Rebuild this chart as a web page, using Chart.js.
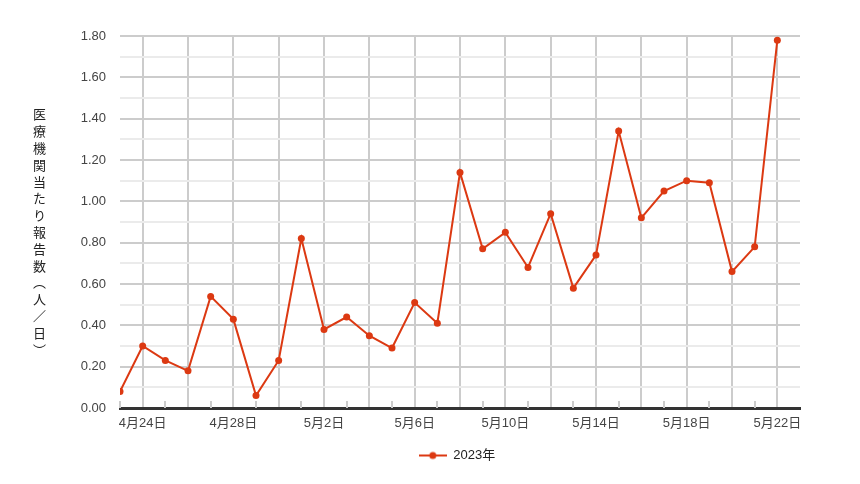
<!DOCTYPE html>
<html>
<head>
<meta charset="utf-8">
<script src="https://cdn.jsdelivr.net/npm/chart.js@4/dist/chart.umd.min.js"></script>
<style>
  html, body { margin: 0; padding: 0; background: #fff; }
  #wrap { position: relative; width: 860px; height: 484px; }
  #ytitle {
    position: absolute; left: 33px; top: 108px;
    writing-mode: vertical-rl; text-orientation: upright;
    font-family: "Noto Sans CJK JP", sans-serif; font-size: 13px; line-height: 13px;
    letter-spacing: 3.8px; color: #222; white-space: nowrap;
  }
</style>
</head>
<body>
<div id="wrap">
  <canvas id="c" width="860" height="484"></canvas>
  <div id="ytitle">医療機関当たり報告数（人／日）</div>
</div>
<script>
const categories = ['4月23日','4月24日','4月25日','4月26日','4月27日','4月28日','4月29日','4月30日',
  '5月1日','5月2日','5月3日','5月4日','5月5日','5月6日','5月7日','5月8日','5月9日','5月10日',
  '5月11日','5月12日','5月13日','5月14日','5月15日','5月16日','5月17日','5月18日','5月19日',
  '5月20日','5月21日','5月22日'];
const values = [0.08,0.30,0.23,0.18,0.54,0.43,0.06,0.23,
  0.82,0.38,0.44,0.35,0.29,0.51,0.41,1.14,0.77,0.85,0.68,0.94,0.58,0.74,1.34,0.92,1.05,1.10,1.09,0.66,0.78,1.78];
const xTickLabels = ['4月24日','4月28日','5月2日','5月6日','5月10日','5月14日','5月18日','5月22日'];
const seriesName = '2023年';
const yTitle = '医療機関当たり報告数（人／日）';

const RED = '#dc3912';
const FONT = "'Liberation Sans', Arial, 'Noto Sans CJK JP', sans-serif";

// legend icon: line with dot
const icon = document.createElement('canvas');
icon.width = 28; icon.height = 10;
(function(){
  const g = icon.getContext('2d');
  g.strokeStyle = RED; g.lineWidth = 2;
  g.beginPath(); g.moveTo(0, 5); g.lineTo(28, 5); g.stroke();
  g.fillStyle = RED; g.beginPath(); g.arc(14, 5, 3.5, 0, Math.PI * 2); g.fill();
})();

const minorTicks = {
  id: 'minorTicks',
  afterLayout(chart) {
    // center the legend on the span used by the reference (x 114..800)
    const lg = chart.legend;
    if (lg) { lg.left = 114; lg.right = 800; lg.width = 686; }
  },
  beforeDatasetsDraw(chart) {
    const xs = chart.scales.x, ctx = chart.ctx;
    const bottom = chart.chartArea.bottom;
    ctx.save();
    ctx.strokeStyle = '#cccccc'; ctx.lineWidth = 2;
    for (let i = 0; i < categories.length; i += 2) {
      const px = Math.round(xs.getPixelForValue(i));
      ctx.beginPath(); ctx.moveTo(px, bottom - 7); ctx.lineTo(px, bottom); ctx.stroke();
    }
    ctx.restore();
  }
};

new Chart(document.getElementById('c'), {
  type: 'line',
  data: {
    datasets: [{
      label: seriesName,
      data: categories.map((c, i) => ({ x: i, y: values[i] })),
      borderColor: RED,
      backgroundColor: RED,
      borderWidth: 2,
      pointRadius: 3.5,
      pointBorderWidth: 0,
      pointBackgroundColor: RED,
      tension: 0
    }]
  },
  options: {
    responsive: false,
    animation: false,
    layout: { padding: { left: 0, right: 60, top: 36, bottom: 12 } },
    scales: {
      x: {
        type: 'linear',
        min: 0, max: categories.length,
        afterFit(s) { s.height = 31; },
        afterBuildTicks(s) {
          const t = [];
          for (let i = 0; i <= categories.length; i++) t.push({ value: i });
          s.ticks = t;
        },
        ticks: {
          autoSkip: false, maxRotation: 0, minRotation: 0, padding: 8,
          color: '#444', font: { family: FONT, size: 13 },
          callback(v) {
            const lab = categories[v];
            return lab && xTickLabels.includes(lab) ? lab : '';
          }
        },
        grid: {
          drawTicks: false,
          lineWidth: 2,
          color(ctx) { return (ctx.tick && ctx.tick.value % 2 === 1) ? '#cccccc' : 'rgba(0,0,0,0)'; }
        },
        border: { display: true, color: '#333333', width: 3 }
      },
      y: {
        min: 0, max: 1.8,
        afterFit(s) { s.width = 120; },
        ticks: {
          stepSize: 0.1, padding: 14, autoSkip: false,
          color: '#444', font: { family: FONT, size: 13 },
          callback(v) {
            const k = Math.round(v * 10);
            return k % 2 === 0 ? (k / 10).toFixed(2) : '';
          }
        },
        grid: {
          drawTicks: false,
          lineWidth: 2,
          color(ctx) {
            const k = Math.round(ctx.tick.value * 10);
            if (k === 0) return 'rgba(0,0,0,0)';
            return k % 2 === 0 ? '#cccccc' : '#ebebeb';
          }
        },
        border: { display: false }
      }
    },
    plugins: {
      legend: {
        position: 'bottom',
        labels: {
          usePointStyle: true, pointStyle: icon, pointStyleWidth: 28, boxHeight: 10,
          padding: 10, color: '#222', font: { family: FONT, size: 13 }
        }
      },
      tooltip: { enabled: false }
    }
  },
  plugins: [minorTicks]
});
</script>
</body>
</html>
